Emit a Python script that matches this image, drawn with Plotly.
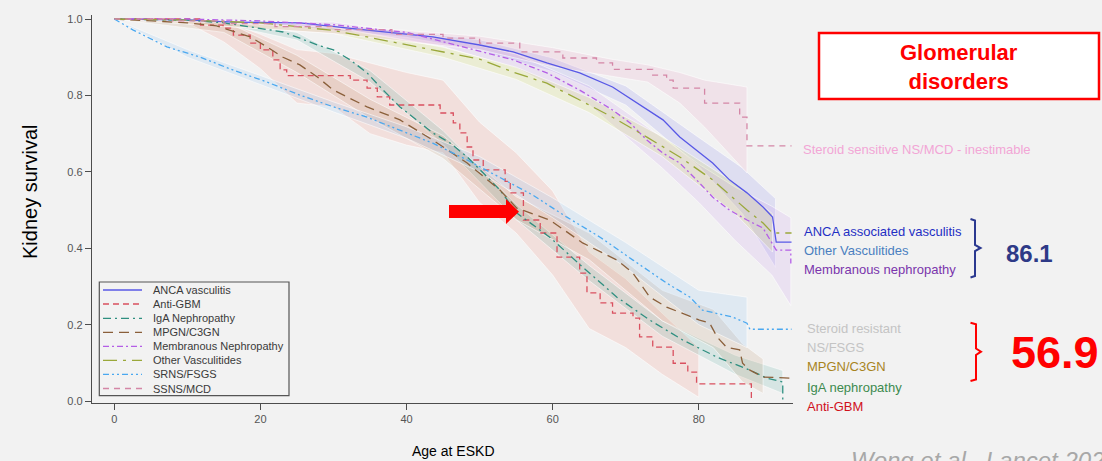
import plotly.graph_objects as go

# ---------------- data ----------------
names = ["ANCA vasculitis", "Anti-GBM", "IgA Nephropathy", "MPGN/C3GN",
         "Membranous Nephropathy", "Other Vasculitides", "SRNS/FSGS", "SSNS/MCD"]

# ANCA vasculitis
anca_age = [0, 10, 16.3, 25.4, 34.6, 43.6, 50, 54.6, 59.2, 63.7, 68.2, 72.9, 75.1, 77.4, 79.7, 81.9, 84.2, 86.6, 88.8, 90.1, 90.6, 92.7]
anca_surv = [1.0, 0.998, 0.992, 0.99, 0.971, 0.953, 0.932, 0.914, 0.885, 0.859, 0.822, 0.762, 0.736, 0.691, 0.657, 0.623, 0.579, 0.545, 0.508, 0.482, 0.416, 0.416]
anca_ci_age = [0, 20, 40, 50, 60, 70, 80, 86, 90.5]
anca_lo = [1.0, 0.988, 0.952, 0.918, 0.862, 0.775, 0.615, 0.49, 0.35]
anca_hi = [1.0, 0.995, 0.968, 0.946, 0.898, 0.825, 0.69, 0.61, 0.53]

# Anti-GBM (step curve)
gbm_age = [0, 11.8, 14.9, 16.3, 18.6, 20, 21.7, 22.7, 23.6, 32.3, 34.6, 36, 37.7, 44.6, 46.4, 47.3, 48.3, 49.1, 50.5, 53.5, 54.2, 56, 58.3, 60.6, 63.7, 64.7, 66.5, 68.2, 71, 71.9, 73.7, 76.5, 78.5, 79.7, 87.2]
gbm_surv = [1.0, 0.984, 0.976, 0.958, 0.937, 0.919, 0.893, 0.867, 0.852, 0.84, 0.819, 0.796, 0.775, 0.754, 0.728, 0.702, 0.665, 0.631, 0.605, 0.575, 0.545, 0.474, 0.44, 0.377, 0.335, 0.283, 0.257, 0.23, 0.217, 0.168, 0.141, 0.099, 0.076, 0.045, 0.0]
gbm_ci_age = [0, 10, 15, 20, 25, 30, 35, 40, 45, 50, 55, 60, 65, 70, 75, 80]
gbm_lo = [1.0, 0.99, 0.94, 0.87, 0.78, 0.77, 0.70, 0.67, 0.65, 0.52, 0.44, 0.33, 0.19, 0.14, 0.07, 0.01]
gbm_hi = [1.0, 1.0, 0.995, 0.96, 0.92, 0.91, 0.885, 0.86, 0.84, 0.73, 0.65, 0.55, 0.39, 0.32, 0.23, 0.14]

# IgA nephropathy
iga_age = [0, 10, 15, 18.6, 23.1, 25.4, 27.8, 30, 32.3, 34.6, 36.8, 39.1, 41.4, 43.6, 46, 48.3, 50.5, 52.8, 55.1, 59.6, 64.1, 68.8, 73.3, 77.8, 82.5, 87, 89.3, 91.5, 91.5]
iga_surv = [1.0, 0.997, 0.99, 0.979, 0.966, 0.95, 0.932, 0.919, 0.893, 0.859, 0.814, 0.77, 0.736, 0.702, 0.675, 0.639, 0.597, 0.552, 0.492, 0.429, 0.351, 0.272, 0.212, 0.16, 0.115, 0.081, 0.06, 0.05, 0.0]
iga_ci_age = [0, 15, 25, 35, 45, 55, 65, 75, 85, 91.5]
iga_lo = [1.0, 0.985, 0.945, 0.835, 0.672, 0.475, 0.315, 0.17, 0.07, 0.02]
iga_hi = [1.0, 0.995, 0.965, 0.865, 0.708, 0.515, 0.355, 0.21, 0.12, 0.08]

# MPGN/C3GN
mpgn_age = [0, 10, 14, 18.6, 20.9, 23.1, 25.4, 27.8, 30, 34.6, 39.1, 43.6, 48.3, 52.8, 55.1, 59.6, 64.1, 68.8, 71, 73.3, 75.6, 77.8, 80.1, 81.5, 82.5, 83.8, 85.6, 86, 87, 88.8, 92.7]
mpgn_surv = [1.0, 0.99, 0.982, 0.953, 0.927, 0.90, 0.88, 0.848, 0.814, 0.77, 0.736, 0.683, 0.623, 0.552, 0.505, 0.474, 0.414, 0.369, 0.335, 0.272, 0.246, 0.23, 0.212, 0.204, 0.168, 0.141, 0.134, 0.099, 0.081, 0.063, 0.06]
mpgn_ci_age = [0, 15, 25, 35, 45, 55, 65, 75, 82, 86, 88.8]
mpgn_lo = [1.0, 0.965, 0.86, 0.74, 0.635, 0.475, 0.37, 0.21, 0.14, 0.05, 0.02]
mpgn_hi = [1.0, 0.995, 0.905, 0.79, 0.695, 0.535, 0.44, 0.29, 0.24, 0.15, 0.11]

# Membranous nephropathy
memb_age = [0, 10, 20, 30, 40, 45, 50, 54.6, 59.2, 63.7, 68.2, 70.6, 72.9, 75.1, 77.4, 79.7, 81.9, 84.2, 86.6, 88.8, 90.6, 92.6, 92.6]
memb_surv = [1.0, 1.0, 0.995, 0.985, 0.965, 0.94, 0.915, 0.893, 0.859, 0.814, 0.762, 0.728, 0.683, 0.649, 0.623, 0.579, 0.534, 0.50, 0.474, 0.453, 0.395, 0.395, 0.36]
memb_ci_age = [0, 30, 45, 55, 65, 75, 80, 85, 90, 92.6]
memb_lo = [1.0, 0.978, 0.928, 0.872, 0.775, 0.61, 0.52, 0.42, 0.33, 0.25]
memb_hi = [1.0, 0.992, 0.952, 0.908, 0.825, 0.69, 0.62, 0.56, 0.51, 0.48]

# Other vasculitides
ovas_age = [0, 10, 20, 30, 34.6, 43.6, 50, 54.6, 59.2, 63.7, 68.2, 72.9, 77.4, 81.9, 86.6, 88.8, 90.1, 92.7]
ovas_surv = [1.0, 0.997, 0.99, 0.97, 0.953, 0.919, 0.895, 0.861, 0.832, 0.788, 0.743, 0.691, 0.639, 0.579, 0.50, 0.466, 0.44, 0.44]
ovas_ci_age = [0, 30, 45, 55, 65, 75, 85, 90.1]
ovas_lo = [1.0, 0.962, 0.90, 0.842, 0.755, 0.64, 0.49, 0.39]
ovas_hi = [1.0, 0.978, 0.926, 0.874, 0.795, 0.692, 0.57, 0.49]

# SRNS/FSGS
srns_age = [0, 2.6, 7.2, 11.8, 16.3, 20.9, 25.4, 30, 34.6, 39.1, 43.6, 48.3, 52.8, 57.3, 61.9, 66.5, 71, 75.6, 78.8, 80.5, 84.6, 86.6, 87, 92.7]
srns_surv = [1.0, 0.971, 0.927, 0.90, 0.866, 0.835, 0.801, 0.77, 0.743, 0.709, 0.675, 0.631, 0.586, 0.539, 0.482, 0.429, 0.369, 0.309, 0.272, 0.238, 0.22, 0.204, 0.188, 0.188]
srns_ci_age = [0, 10, 20, 30, 40, 50, 60, 70, 80, 86.6]
srns_lo = [1.0, 0.90, 0.828, 0.757, 0.688, 0.60, 0.48, 0.35, 0.20, 0.14]
srns_hi = [1.0, 0.92, 0.852, 0.783, 0.718, 0.64, 0.532, 0.415, 0.29, 0.272]

# SSNS/MCD (step curve)
ssns_age = [0, 8, 15, 22, 30, 38, 45, 50, 55.5, 61.4, 66, 68.2, 73.7, 75.6, 76.5, 80.8, 85.6, 86.6, 92.7]
ssns_surv = [1.0, 0.995, 0.988, 0.98, 0.972, 0.96, 0.95, 0.937, 0.914, 0.898, 0.885, 0.868, 0.853, 0.84, 0.819, 0.78, 0.743, 0.668, 0.668]
ssns_ci_age = [0, 30, 50, 60, 68, 73, 77.4, 80.8, 86.6]
ssns_lo = [1.0, 0.962, 0.92, 0.875, 0.85, 0.835, 0.78, 0.717, 0.597]
ssns_hi = [1.0, 0.985, 0.955, 0.925, 0.895, 0.88, 0.86, 0.84, 0.822]

x_ticks = [0, 20, 40, 60, 80]
y_ticks = [0.0, 0.2, 0.4, 0.6, 0.8, 1.0]

# right-hand labels
upper_labels = ["ANCA associated vasculitis", "Other Vasculitides", "Membranous nephropathy"]
lower_labels = ["Steroid resistant", "NS/FSGS", "MPGN/C3GN", "IgA nephropathy", "Anti-GBM"]
upper_median = "86.1"
lower_median = "56.9"

# ---------------- styling ----------------
FONT = "Liberation Sans, Arial, sans-serif"
W, H = 1102, 461
PL, PR, PT, PB = 92, 793, 15, 403
X_RANGE = [-3.05, 92.9]
Y_RANGE = [-0.005, 1.0105]


def fx(p):
    return (p - PL) / (PR - PL)


def fy(p):
    return (PB - p) / (PB - PT)


groups = [
    (anca_age, anca_surv, anca_ci_age, anca_lo, anca_hi, "#5858e6", "rgba(120,120,235,0.16)", "solid", "linear"),
    (gbm_age, gbm_surv, gbm_ci_age, gbm_lo, gbm_hi, "#d9505f", "rgba(245,130,115,0.17)", "6px,4px", "hv"),
    (iga_age, iga_surv, iga_ci_age, iga_lo, iga_hi, "#2f8f80", "rgba(70,160,150,0.16)", "8px,4px,2px,4px", "linear"),
    (mpgn_age, mpgn_surv, mpgn_ci_age, mpgn_lo, mpgn_hi, "#8a5f3a", "rgba(175,125,80,0.15)", "10px,6px", "linear"),
    (memb_age, memb_surv, memb_ci_age, memb_lo, memb_hi, "#b45ee6", "rgba(195,145,235,0.17)", "6px,3px,2px,3px", "linear"),
    (ovas_age, ovas_surv, ovas_ci_age, ovas_lo, ovas_hi, "#9aa83a", "rgba(205,215,80,0.18)", "14px,6px,3px,6px", "linear"),
    (srns_age, srns_surv, srns_ci_age, srns_lo, srns_hi, "#4aa8f0", "rgba(125,185,240,0.16)", "6px,3px,2px,3px,2px,3px", "linear"),
    (ssns_age, ssns_surv, ssns_ci_age, ssns_lo, ssns_hi, "#d486a6", "rgba(232,145,185,0.16)", "6px,5px", "hv"),
]

fig = go.Figure()

# confidence bands
for age, surv, cia, lo, hi, col, band, dash, shape in groups:
    fig.add_trace(go.Scatter(
        x=cia + cia[::-1], y=hi + lo[::-1], fill="toself", fillcolor=band,
        mode="lines", line=dict(color="rgba(255,255,255,0.55)", width=1),
        hoverinfo="skip", showlegend=False))

# survival curves
for (age, surv, cia, lo, hi, col, band, dash, shape), nm in zip(groups, names):
    fig.add_trace(go.Scatter(
        x=age, y=surv, mode="lines", name=nm, showlegend=False,
        line=dict(color=col, width=1.3, dash=dash, shape=shape)))

shapes = []
annotations = []

# manual legend box
shapes.append(dict(type="rect", xref="paper", yref="paper",
                   x0=fx(99.3), x1=fx(289), y0=fy(395.7), y1=fy(282),
                   line=dict(color="#555555", width=1.2), fillcolor="rgba(0,0,0,0)"))
row_y = [290, 304, 318.3, 332.3, 346.3, 360.3, 374.3, 388.5]
for (age, surv, cia, lo, hi, col, band, dash, shape), nm, ry in zip(groups, names, row_y):
    shapes.append(dict(type="line", xref="paper", yref="paper",
                       x0=fx(103), x1=fx(142), y0=fy(ry), y1=fy(ry),
                       line=dict(color=col, width=1.3, dash=dash)))
    annotations.append(dict(text=nm, xref="paper", yref="paper", x=fx(151), y=fy(ry),
                            xanchor="left", yanchor="middle", showarrow=False,
                            font=dict(family=FONT, size=11, color="#3a3a3a")))

# axis titles
annotations.append(dict(text="Kidney survival", xref="paper", yref="paper", x=fx(30), y=fy(192),
                        textangle=-90, showarrow=False, xanchor="center", yanchor="middle",
                        font=dict(family=FONT, size=20, color="#000000")))
annotations.append(dict(text="Age at ESKD", xref="paper", yref="paper", x=fx(453), y=fy(451),
                        showarrow=False, xanchor="center", yanchor="middle",
                        font=dict(family=FONT, size=14, color="#000000")))

# right-hand labels
annotations.append(dict(text="Steroid sensitive NS/MCD - inestimable", xref="paper", yref="paper",
                        x=fx(801), y=fy(149.3), xanchor="left", yanchor="middle", showarrow=False,
                        font=dict(family=FONT, size=13, color="#f2a6d6")))
up_cols = ["#1f2fc4", "#4a7fc0", "#7a35ac"]
for t, c, yy in zip(upper_labels, up_cols, [231, 250.5, 269.3]):
    annotations.append(dict(text=t, xref="paper", yref="paper", x=fx(802), y=fy(yy),
                            xanchor="left", yanchor="middle", showarrow=False,
                            font=dict(family=FONT, size=13, color=c)))
low_cols = ["#c4c4c4", "#c4c4c4", "#a8841e", "#3d8a4f", "#d0101c"]
for t, c, yy in zip(lower_labels, low_cols, [328.3, 347.3, 366.7, 387, 406]):
    annotations.append(dict(text=t, xref="paper", yref="paper", x=fx(805), y=fy(yy),
                            xanchor="left", yanchor="middle", showarrow=False,
                            font=dict(family=FONT, size=13, color=c)))

# brackets
def pth(pts):
    s = "M {} {}".format(fx(pts[0][0]), fy(pts[0][1]))
    for p in pts[1:]:
        s += " L {} {}".format(fx(p[0]), fy(p[1]))
    return s

shapes.append(dict(type="path", xref="paper", yref="paper",
                   path=pth([(970.5, 219), (975, 220.5), (975, 245), (980.5, 248), (975, 251), (975, 276), (970.5, 277.5)]),
                   line=dict(color="#2b3990", width=2)))
shapes.append(dict(type="path", xref="paper", yref="paper",
                   path=pth([(970.5, 322.7), (976, 324.2), (976, 348.5), (981, 351.7), (976, 355), (976, 379.5), (970.5, 381)]),
                   line=dict(color="#ff0000", width=2)))
annotations.append(dict(text="<b>" + upper_median + "</b>", xref="paper", yref="paper", x=fx(1004), y=fy(253),
                        xanchor="left", yanchor="middle", showarrow=False,
                        font=dict(family=FONT, size=24, color="#2e3a87")))
annotations.append(dict(text="<b>" + lower_median + "</b>", xref="paper", yref="paper", x=fx(1009), y=fy(352),
                        xanchor="left", yanchor="middle", showarrow=False,
                        font=dict(family=FONT, size=45, color="#ff0000")))

# title box
shapes.append(dict(type="rect", xref="paper", yref="paper",
                   x0=fx(819), x1=fx(1099), y0=fy(99), y1=fy(33),
                   line=dict(color="#ff0000", width=2.5), fillcolor="#ffffff"))
annotations.append(dict(text="<b>Glomerular<br>disorders</b>", xref="paper", yref="paper",
                        x=fx(959), y=fy(67), xanchor="center", yanchor="middle", showarrow=False,
                        font=dict(family=FONT, size=22, color="#ff0000")))

# red arrow
shapes.append(dict(type="path", xref="paper", yref="paper",
                   path=pth([(449, 205), (506, 205), (506, 199), (519, 211.7), (506, 224), (506, 218), (449, 218)]) + " Z",
                   fillcolor="#ff0000", line=dict(color="#ff0000", width=0)))

# citation (cut by bottom edge as in the original slide)
annotations.append(dict(text="<i>Wong et al., Lancet 2021</i>", xref="paper", yref="paper",
                        x=fx(849), y=fy(445), xanchor="left", yanchor="top", showarrow=False,
                        font=dict(family=FONT, size=24, color="#a8a8a8")))

axis_common = dict(showline=True, linecolor="#4d4d4d", linewidth=1.3, ticks="outside", ticklen=6,
                   tickcolor="#4d4d4d", tickwidth=1.2, showgrid=False, zeroline=False,
                   tickfont=dict(family=FONT, size=11, color="#555555"))

fig.update_layout(
    width=W, height=H, autosize=False,
    margin=dict(l=PL, r=W - PR, t=PT, b=H - PB, pad=0),
    paper_bgcolor="#f2f2f2", plot_bgcolor="#f2f2f2",
    xaxis=dict(range=X_RANGE, tickvals=x_ticks, **axis_common),
    yaxis=dict(range=Y_RANGE, tickvals=y_ticks, tickformat=".1f", **axis_common),
    shapes=shapes, annotations=annotations, showlegend=False,
    font=dict(family=FONT),
)

fig.write_html(
    "out.html",
    config={"displayModeBar": False},
    post_script="document.body.style.margin='0';document.body.style.background='#f2f2f2';",
)
